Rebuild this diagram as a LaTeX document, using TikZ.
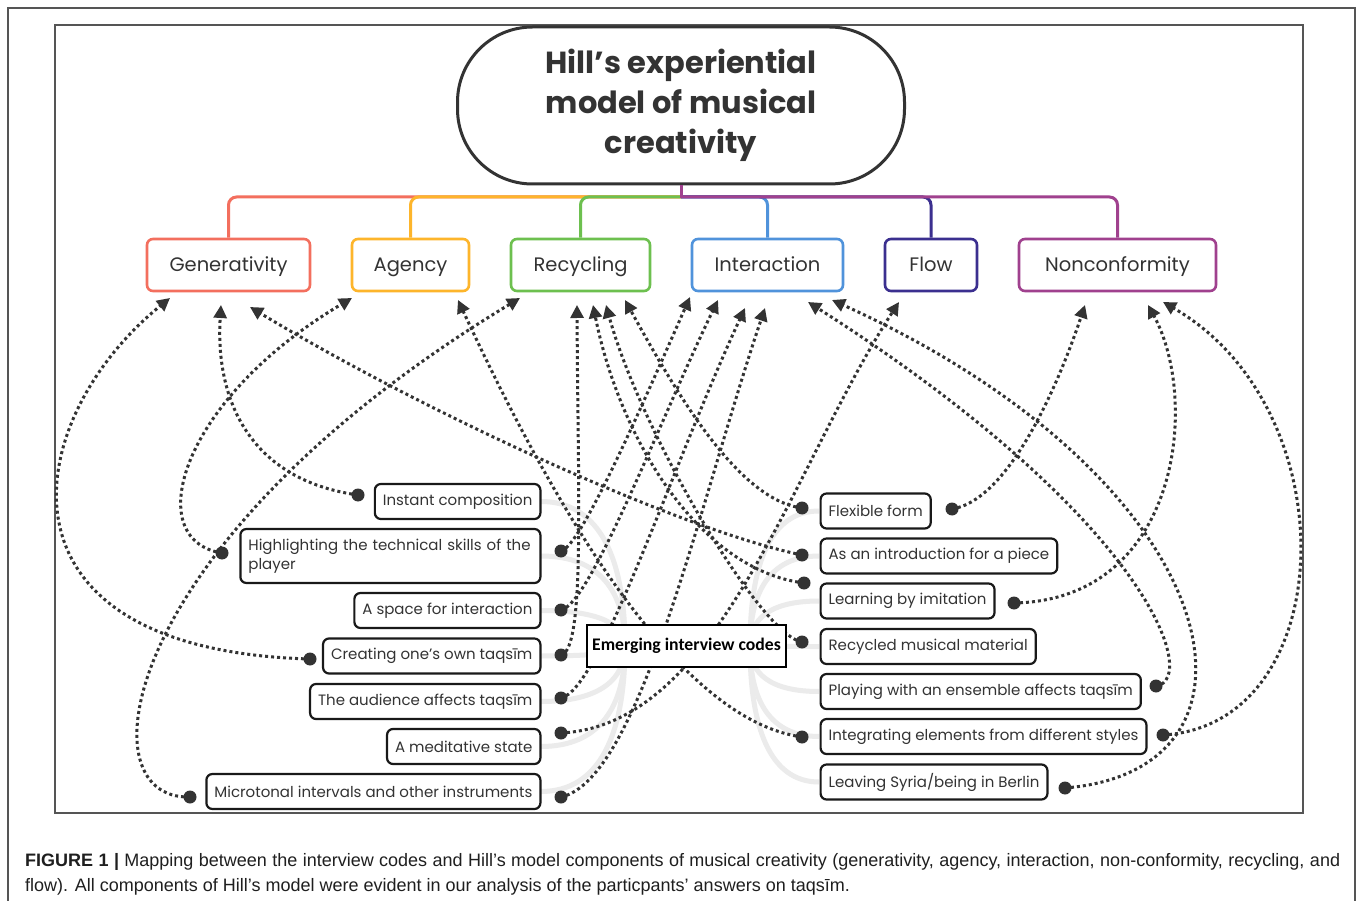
\documentclass[tikz,border=0pt]{standalone}
\usepackage{fontspec}
\setmainfont{Poppins}
\newfontfamily\capfont{Liberation Sans}
\newfontfamily\codefont{Carlito}
\usetikzlibrary{arrows.meta}
\definecolor{cGen}{HTML}{F36F5E}
\definecolor{cAg}{HTML}{FDB52B}
\definecolor{cRe}{HTML}{6DC04F}
\definecolor{cIn}{HTML}{5093DB}
\definecolor{cFl}{HTML}{3B2F8F}
\definecolor{cNo}{HTML}{A0418E}
\definecolor{ink}{HTML}{333333}
\definecolor{glk}{HTML}{EBEBEB}
\definecolor{frm}{HTML}{555555}
\tikzset{
  titlebox/.style={draw=ink, line width=3pt, rounded corners=75pt, minimum width=447pt, minimum height=157pt, align=center, text=ink, font=\bfseries\fontsize{30.5}{40}\selectfont, fill=white},
  mbox/.style={draw=#1, line width=2.6pt, rounded corners=6pt, minimum height=52pt, fill=white, text=ink, font=\fontsize{19.5}{22}\selectfont, inner sep=0pt, text height=14pt, text depth=0pt},
  cbox/.style={draw=black!90, line width=2.2pt, rounded corners=6pt, minimum height=35pt, inner xsep=8pt, inner ysep=2pt, fill=white, text=ink, font=\fontsize{15}{19}\selectfont},
  tline/.style={line width=3pt, rounded corners=8pt},
  glink/.style={draw=glk, line width=5pt},
  dl/.style={draw=ink, line width=3pt, dash pattern=on 3pt off 3pt, -{Triangle[length=13pt,width=13pt]}},
  dotn/.style={circle, fill=ink, minimum size=13pt, inner sep=0pt},
  emnode/.style={draw=black, line width=2.8pt, minimum width=199pt, minimum height=42pt, fill=white, font=\codefont\bfseries\fontsize{17.7}{19}\selectfont, inner sep=0pt},
  capt/.style={anchor=base west, inner sep=0pt, text=black!88, font=\capfont\fontsize{18}{22}\selectfont}
}
\begin{document}
\begin{tikzpicture}[x=1pt,y=-1pt]
\useasboundingbox (0,0) rectangle (1358,901);
\fill[white] (0,0) rectangle (1358,901);
\draw[frm, line width=1.6pt] (8,902) -- (8,8) -- (1355,8) -- (1355,902);
\draw[frm, line width=1.2pt] (55,25) rectangle (1303,813);

% gray mind-map links
\foreach \yy in {501.5,556,610.5,656,701.5,746.5,791.5}
  \draw[glink] (541,\yy) .. controls (600,\yy) and (625,{\yy+0.4*(646-\yy)}) .. (625,646);
\foreach \yy in {511,556,601,646.5,691.5,736.5,782}
  \draw[glink] (819,\yy) .. controls (770,\yy) and (750,{\yy+0.4*(646-\yy)}) .. (750,646);

% title and model components
\node[titlebox] (root) at (681,105.5) {Hill’s experiential\\model of musical\\creativity};
\node[mbox=cGen, minimum width=163pt] (gen) at (228.5,265) {Generativity};
\node[mbox=cAg, minimum width=117pt] (ag) at (410.5,265) {Agency};
\node[mbox=cRe, minimum width=139pt] (re) at (580.5,265) {Recycling};
\node[mbox=cIn, minimum width=151pt] (int) at (767.5,265) {Interaction};
\node[mbox=cFl, minimum width=92pt] (fl) at (931,265) {Flow};
\node[mbox=cNo, minimum width=197pt] (nc) at (1117.5,265) {Nonconformity};

\draw[tline, cGen] (681,197) -| (gen.north);
\draw[tline, cAg] (681,197) -| (ag.north);
\draw[tline, cRe] (681,197) -| (re.north);
\draw[tline, cIn] (681,197) -| (int.north);
\draw[tline, cFl] (681,197) -| (fl.north);
\draw[tline, cNo] (681,197) -| (nc.north);
\draw[line width=3pt, cNo] (root.south) -- (681,198.5);

% code boxes, left
\node[cbox, anchor=east] (ic) at (541.5,501.5) {Instant composition};
\node[cbox, anchor=east, text width=284pt, align=left, minimum height=54pt] (hl) at (541.5,556) {Highlighting the technical skills of the\\player};
\node[cbox, anchor=east] (sp) at (541.5,610.5) {A space for interaction};
\node[cbox, anchor=east] (cr) at (541.5,656) {Creating one{\char"27}s own taqsīm};
\node[cbox, anchor=east] (au) at (541.5,701.5) {The audience affects taqsīm};
\node[cbox, anchor=east] (me) at (541.5,746.5) {A meditative state};
\node[cbox, anchor=east] (mi) at (541.5,791.5) {Microtonal intervals and other instruments};
% code boxes, right
\node[cbox, anchor=west] (ff) at (819.5,511) {Flexible form};
\node[cbox, anchor=west] (ai) at (819.5,556) {As an introduction for a piece};
\node[cbox, anchor=west] (li) at (819.5,601) {Learning by imitation};
\node[cbox, anchor=west] (rm) at (819.5,646.5) {Recycled musical material};
\node[cbox, anchor=west] (pe) at (819.5,691.5) {Playing with an ensemble affects taqsīm};
\node[cbox, anchor=west] (ie) at (819.5,736.5) {Integrating elements from different styles};
\node[cbox, anchor=west] (ls) at (819.5,782) {Leaving Syria/being in Berlin};

% arrow tips
\coordinate (gA) at (170,298); \coordinate (gB) at (221,305); \coordinate (gC) at (250,307);
\coordinate (aA) at (352,298); \coordinate (aB) at (458,300);
\coordinate (rA) at (520,298); \coordinate (rB) at (577,305); \coordinate (rC) at (593,305);
\coordinate (rD) at (606,305); \coordinate (rE) at (625,300);
\coordinate (iA) at (690,297); \coordinate (iB) at (718,300); \coordinate (iC) at (745,308);
\coordinate (iD) at (765,308); \coordinate (iE) at (808,302); \coordinate (iF) at (832,300);
\coordinate (fA) at (899,302);
\coordinate (nA) at (1085,305); \coordinate (nB) at (1148,305); \coordinate (nC) at (1163,302);

% dots
\node[dotn] (dicL) at (358,495) {};
\node[dotn] (dhlL) at (222,553) {};
\node[dotn] (dcrL) at (310,659) {};
\node[dotn] (dmiL) at (190,797) {};
\node[dotn] (dhlR) at (561,551) {};
\node[dotn] (dspR) at (561,610) {};
\node[dotn] (dcrR) at (561,655) {};
\node[dotn] (dauR) at (561,698) {};
\node[dotn] (dmeR) at (561,733) {};
\node[dotn] (dmiR) at (561,797) {};
\node[dotn] (dffL) at (802,508) {};
\node[dotn] (daiL) at (802,555) {};
\node[dotn] (dliL) at (804,583) {};
\node[dotn] (drmL) at (802,642) {};
\node[dotn] (dieL) at (802,737) {};
\node[dotn] (dffR) at (952,509) {};
\node[dotn] (dliR) at (1014,603) {};
\node[dotn] (dpeR) at (1156,686) {};
\node[dotn] (dieR) at (1163,735) {};
\node[dotn] (dlsR) at (1065,788) {};

% dotted connectors
\draw[dl] (dcrL.center) .. controls (-20,650) and (20,420) .. (gA);
\draw[dl] (dicL.center) .. controls (250,480) and (215,400) .. (gB);
\draw[dl] (daiL.center) .. controls (680,530) and (420,410) .. (gC);
\draw[dl] (dhlL.center) .. controls (140,540) and (180,400) .. (aA);
\draw[dl] (dieL.center) .. controls (680,720) and (560,520) .. (aB);
\draw[dl] (dmiL.center) .. controls (80,800) and (120,540) .. (rA);
\draw[dl] (dcrR.center) .. controls (585,650) and (578,500) .. (rB);
\draw[dl] (dliL.center) .. controls (700,570) and (620,440) .. (rC);
\draw[dl] (drmL.center) .. controls (760,635) and (640,430) .. (rD);
\draw[dl] (dffL.center) .. controls (740,500) and (680,400) .. (rE);
\draw[dl] (dhlR.center) .. controls (580,548) and (640,410) .. (iA);
\draw[dl] (dspR.center) .. controls (590,605) and (660,420) .. (iB);
\draw[dl] (dauR.center) .. controls (600,690) and (670,470) .. (iC);
\draw[dl] (dmiR.center) .. controls (640,780) and (700,500) .. (iD);
\draw[dl] (dpeR.center) .. controls (1200,680) and (1150,520) .. (iE);
\draw[dl] (dlsR.center) .. controls (1290,770) and (1230,480) .. (iF);
\draw[dl] (dmeR.center) .. controls (720,725) and (790,470) .. (fA);
\draw[dl] (dffR.center) .. controls (1010,500) and (1060,380) .. (nA);
\draw[dl] (dliR.center) .. controls (1180,600) and (1200,400) .. (nB);
\draw[dl] (dieR.center) .. controls (1340,725) and (1350,410) .. (nC);

% centre node
\node[emnode] (em) at (686.5,646) {Emerging interview codes};

% caption
\node[capt] (cap1) at (25,866) {\makebox[1315pt][s]{\textbf{FIGURE 1 |} Mapping between the interview codes and Hill’s model components of musical creativity (generativity, agency, interaction, non-conformity, recycling, and}};
\node[capt] (cap2) at (25,891) {flow). All components of Hill’s model were evident in our analysis of the particpants’ answers on taqsīm.};
\end{tikzpicture}
\end{document}
